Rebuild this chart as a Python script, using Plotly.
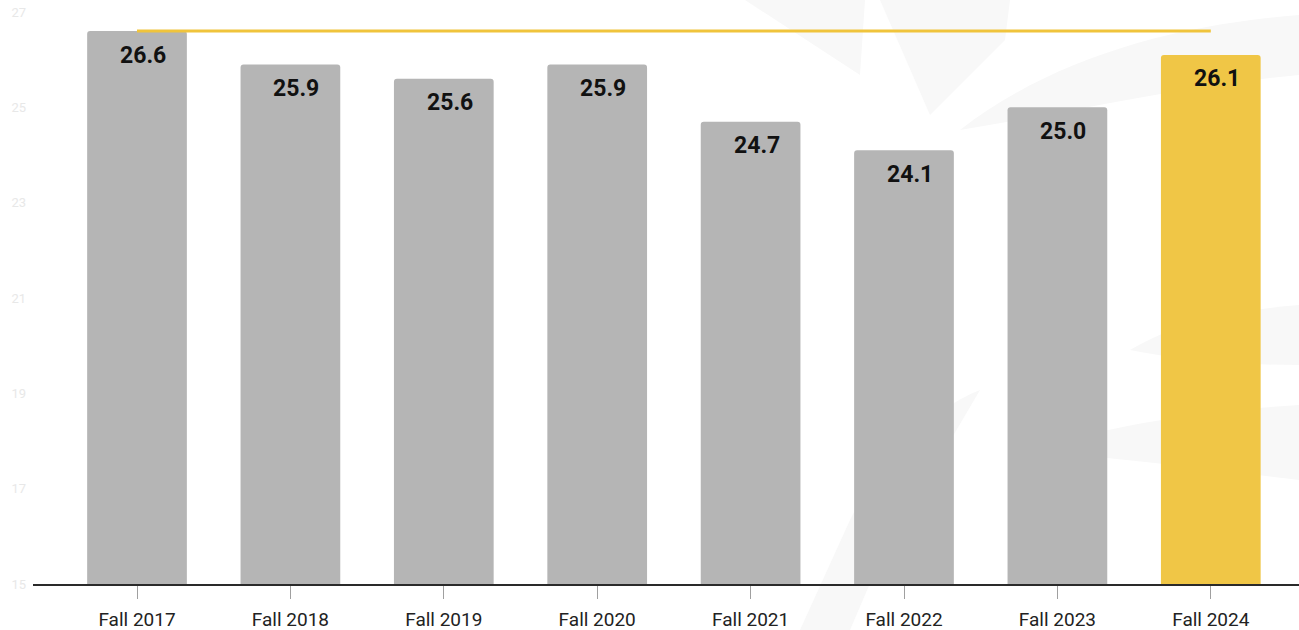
import plotly.graph_objects as go

# Average composite score by fall term
terms = ["Fall 2017", "Fall 2018", "Fall 2019", "Fall 2020",
         "Fall 2021", "Fall 2022", "Fall 2023", "Fall 2024"]
scores = [26.6, 25.9, 25.6, 25.9, 24.7, 24.1, 25.0, 26.1]
# benchmark level carried across all terms
benchmark = [26.6, 26.6, 26.6, 26.6, 26.6, 26.6, 26.6, 26.6]
y_ticks = [15, 17, 19, 21, 23, 25, 27]

GRAY = "#b5b5b5"
GOLD = "#f0c646"
bar_colors = [GRAY] * (len(terms) - 1) + [GOLD]

W, H = 1299, 630
PL, PR, PT, PB = 33, 0, 12, 46

fig = go.Figure()

fig.add_trace(go.Bar(
    x=terms, y=scores,
    marker=dict(color=bar_colors, line=dict(width=0)),
    hoverinfo="x+y",
    showlegend=False,
))

fig.add_trace(go.Scatter(
    x=terms, y=benchmark, mode="lines",
    line=dict(color="#f0c43c", width=3),
    hoverinfo="skip", showlegend=False,
))

# value labels just inside the top of each bar
for t, v in zip(terms, scores):
    fig.add_annotation(
        x=t, y=v, text=f"<b>{v:.1f}</b>", showarrow=False,
        yanchor="middle", xanchor="center", yshift=-24, xshift=6,
        font=dict(family="Roboto", size=23, color="#111111"),
    )

# faint background emblem, drawn in page pixels and converted to paper fractions
emblem = [
    "M 745 0 L 865 0 L 860 75 Z",
    "M 880 0 L 1010 0 L 1005 40 L 930 115 Z",
    "M 960 130 C 1050 60 1170 25 1299 15 L 1299 75 C 1190 85 1080 110 960 130 Z",
    "M 1130 350 C 1180 320 1240 310 1299 305 L 1299 365 C 1240 365 1180 360 1130 350 Z",
    "M 1030 450 C 1130 420 1220 410 1299 405 L 1299 480 C 1220 470 1130 460 1030 450 Z",
    "M 800 630 L 850 520 C 880 460 930 410 980 390 L 880 560 L 850 630 Z",
]
pw, ph = W - PL - PR, H - PT - PB


def to_paper(path):
    res, expect_x = [], True
    for tok in path.split():
        try:
            val = float(tok)
        except ValueError:
            res.append(tok)
            expect_x = True
            continue
        if expect_x:
            res.append(f"{(val - PL) / pw:.5f}")
        else:
            res.append(f"{(H - PB - val) / ph:.5f}")
        expect_x = not expect_x
    return " ".join(res)


for p in emblem:
    fig.add_shape(type="path", path=to_paper(p), xref="paper", yref="paper",
                  fillcolor="#f8f8f8", line=dict(width=0), layer="below")

fig.update_layout(
    width=W, height=H,
    margin=dict(l=PL, r=PR, t=PT, b=PB),
    paper_bgcolor="white", plot_bgcolor="white",
    bargap=0.35,
    barcornerradius=3,
    font=dict(family="Roboto", color="#222222"),
    xaxis=dict(
        range=[-0.678, 7.575],
        automargin=False,
        showgrid=False, zeroline=False,
        showline=True, linecolor="#2a2a2a", linewidth=1.5,
        ticks="outside", ticklen=13, tickcolor="#a0a0a0", tickwidth=1.2,
        tickfont=dict(family="Roboto", size=19, color="#222222"),
        ticklabelstandoff=4,
    ),
    yaxis=dict(
        range=[15, 27],
        automargin=False,
        tickvals=y_ticks,
        showgrid=False, zeroline=False, showline=False,
        tickfont=dict(family="Roboto", size=13, color="#e8e8e8"),
        ticklabelstandoff=6,
    ),
)

fig.write_html("out.html")
